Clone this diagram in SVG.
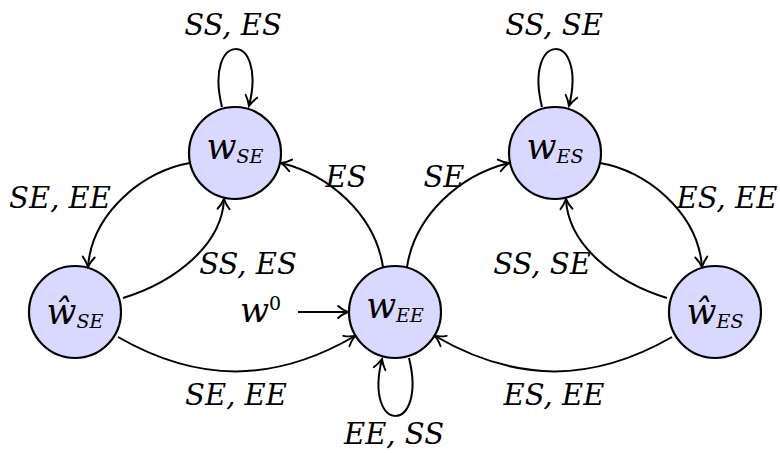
<svg xmlns="http://www.w3.org/2000/svg" width="780" height="453" viewBox="0 0 780 453">
<style>
  .node circle { fill: #d9d9ff; stroke: #000; stroke-width: 2.2; }
  .edge { fill: none; stroke: #000; stroke-width: 2; marker-end: url(#arr); }
  text { font-family: "DejaVu Serif", "Liberation Serif", serif; font-style: italic; fill: #000; }
  .lbl { font-size: 29px; text-anchor: middle; }
  .nl { font-size: 35px; text-anchor: middle; }
  .sub { font-size: 19px; }
</style>
<defs>
  <marker id="arr" viewBox="-12 -8 14 16" refX="0" refY="0" markerWidth="14" markerHeight="16" markerUnits="userSpaceOnUse" orient="auto">
    <path d="M-10,-6 C-6.5,-3 -2.5,-1 0,0 C-2.5,1 -6.5,3 -10,6" fill="none" stroke="#000" stroke-width="1.9" stroke-linecap="round"/>
  </marker>
</defs>

<g id="node-wSEhat" class="node">
  <circle cx="75" cy="312" r="46"/>
  <text class="nl" x="75" y="324">ŵ<tspan class="sub" dy="4">SE</tspan></text>
</g>
<g id="node-wSE" class="node">
  <circle cx="235" cy="153" r="46"/>
  <text class="nl" x="235" y="159">w<tspan class="sub" dy="4">SE</tspan></text>
</g>
<g id="node-wEE" class="node">
  <circle cx="395" cy="312" r="46"/>
  <text class="nl" x="395" y="318">w<tspan class="sub" dy="4">EE</tspan></text>
</g>
<g id="node-wES" class="node">
  <circle cx="555" cy="153" r="46"/>
  <text class="nl" x="555" y="159">w<tspan class="sub" dy="4">ES</tspan></text>
</g>
<g id="node-wEShat" class="node">
  <circle cx="715" cy="312" r="46"/>
  <text class="nl" x="715" y="324">ŵ<tspan class="sub" dy="4">ES</tspan></text>
</g>

<g id="connectors">
  <path class="edge" d="M190,163 C145,170 92,212 88,267"/>
  <path class="edge" d="M123,298 C175,282 222,245 224,199"/>
  <path class="edge" d="M118,337 C198,383 274,383 355,336"/>
  <path class="edge" d="M383,267 C375,215 330,175 281,163"/>
  <path class="edge" d="M407,267 C415,215 460,175 509,163"/>
  <path class="edge" d="M600,163 C645,170 698,212 702,267"/>
  <path class="edge" d="M667,298 C615,282 568,245 566,199"/>
  <path class="edge" d="M672,337 C592,383 516,383 435,336"/>
  <path class="edge" d="M222,107 C203,30 268,30 249,106"/>
  <path class="edge" d="M542,107 C523,30 588,30 569,106"/>
  <path class="edge" d="M409,358 C428,435 363,435 382,359"/>
  <path class="edge" d="M298,312 L348,312"/>
</g>

<g id="labels">
  <text class="lbl" x="233" y="35">SS, ES</text>
  <text class="lbl" x="554" y="35">SS, SE</text>
  <text class="lbl" x="60" y="208">SE, EE</text>
  <text class="lbl" x="248" y="274">SS, ES</text>
  <text class="lbl" x="346" y="187">ES</text>
  <text class="lbl" x="444" y="187">SE</text>
  <text class="lbl" x="727" y="208">ES, EE</text>
  <text class="lbl" x="542" y="274">SS, SE</text>
  <text class="lbl" x="236" y="405">SE, EE</text>
  <text class="lbl" x="554" y="405">ES, EE</text>
  <text class="lbl" x="394" y="444">EE, SS</text>
  <text x="240" y="322" style="font-size:34px">w<tspan style="font-size:19px;font-style:normal" dy="-12">0</tspan></text>
</g>
</svg>
